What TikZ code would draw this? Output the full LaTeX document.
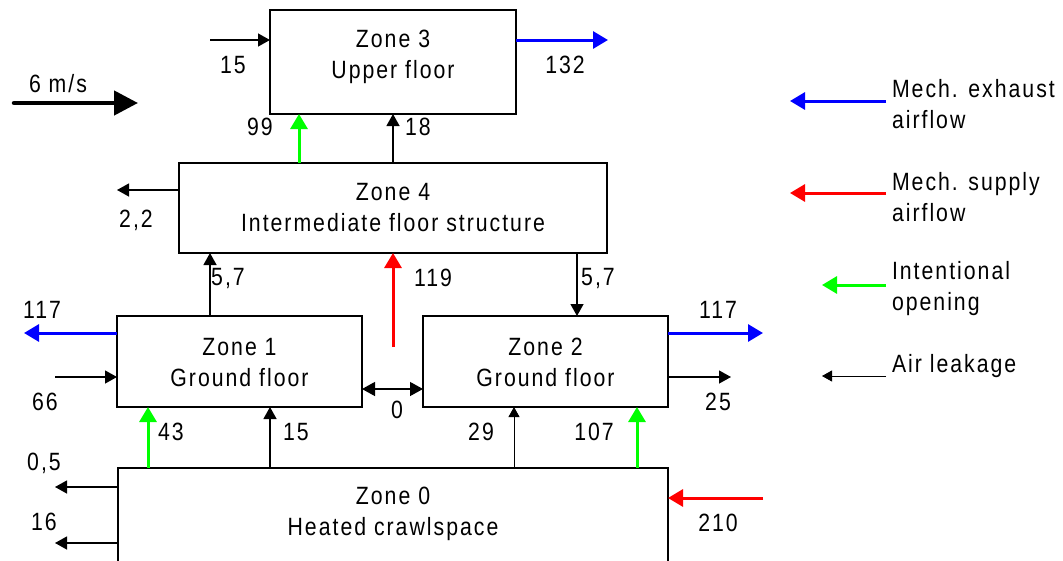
\documentclass[tikz,border=0pt]{standalone}
\usepackage{fontspec}
\setmainfont{Liberation Sans}[FakeStretch=0.85,LetterSpace=8]
\usetikzlibrary{arrows.meta}
\definecolor{exhblue}{RGB}{0,0,255}
\definecolor{supred}{RGB}{255,0,0}
\definecolor{opengreen}{RGB}{0,255,0}
\begin{document}
\begin{tikzpicture}[x=1pt,y=-1pt,
  every node/.style={font=\fontsize{25}{31}\selectfont, inner sep=0pt, outer sep=0pt},
  zbox/.style={draw, line width=1.3pt},
  ztext/.style={align=center},
  lbl/.style={},
  legtext/.style={anchor=west, align=left},
  leak/.style={line width=1.3pt, -{Triangle[length=12pt,width=13pt]}},
  leakboth/.style={line width=1.3pt, {Triangle[length=13pt,width=14pt]}-{Triangle[length=13pt,width=14pt]}},
  leakthin/.style={line width=0.9pt, -{Triangle[length=10pt,width=11pt]}},
  exh/.style={exhblue, line width=3pt, -{Triangle[length=15pt,width=17pt]}},
  sup/.style={supred, line width=3pt, -{Triangle[length=15pt,width=17pt]}},
  open/.style={opengreen, line width=3pt, -{Triangle[length=15pt,width=17pt]}},
  wind/.style={line width=4.5pt, line cap=round, -{Triangle[length=24pt,width=24pt]}}
]
\useasboundingbox (0,0) rectangle (1063,560);
\clip (0,0) rectangle (1063,560);
\fill[white] (0,0) rectangle (1063,560);

% boxes
\node[zbox, minimum width=246pt, minimum height=104pt] (z3) at (393,62) {};
\node[zbox, minimum width=428pt, minimum height=90pt] (z4) at (393,208) {};
\node[zbox, minimum width=245pt, minimum height=91pt] (z1) at (239.5,361.5) {};
\node[zbox, minimum width=245pt, minimum height=91pt] (z2) at (545.5,361.5) {};
\node[zbox, minimum width=550pt, minimum height=130pt] (z0) at (393,533) {};

% box texts
\node[ztext] (t3) at (393,56.5) {Zone 3\\Upper floor};
\node[ztext] (t4) at (393,208) {Zone 4\\Intermediate floor structure};
\node[ztext] (t1) at (239.5,362.5) {Zone 1\\Ground floor};
\node[ztext] (t2) at (545.5,362.5) {Zone 2\\Ground floor};
\node[ztext] (t0) at (393,514) {Zone 0\\Heated crawlspace};

% free ends
\coordinate (a15) at (210,40);
\coordinate (b132) at (608,40);
\coordinate (w1) at (14,103);
\coordinate (w2) at (138,103);
\coordinate (c22) at (117,190);
\coordinate (r119) at (393,347);
\coordinate (e1) at (24,333);
\coordinate (l66) at (55,377);
\coordinate (e2) at (763,333);
\coordinate (l25) at (731,377);
\coordinate (l05) at (55,487);
\coordinate (l16) at (55,543);
\coordinate (s210) at (763,498);

% connectors
\draw[leak] (a15) -- (a15 -| z3.west);
\draw[exh] (z3.east |- b132) -- (b132);
\draw[wind] (w1) -- (w2);
\draw[open] (z4.north -| 299,0) -- (z3.south -| 299,0);
\draw[leak] (z4.north -| 393,0) -- (z3.south -| 393,0);
\draw[leak] (z4.west |- c22) -- (c22);
\draw[leak] (z1.north -| 210,0) -- (z4.south -| 210,0);
\draw[sup] (r119) -- (z4.south -| r119);
\draw[leak] (z4.south -| 577,0) -- (z2.north -| 577,0);
\draw[exh] (z1.west |- e1) -- (e1);
\draw[leak] (l66) -- (z1.west |- l66);
\draw[leakboth] (z1.east |- 0,389) -- (z2.west |- 0,389);
\draw[exh] (z2.east |- e2) -- (e2);
\draw[leak] (z2.east |- l25) -- (l25);
\draw[open] (z0.north -| 148,0) -- (z1.south -| 148,0);
\draw[leak] (z0.north -| 270,0) -- (z1.south -| 270,0);
\draw[leakthin] (z0.north -| 514,0) -- (z2.south -| 514,0);
\draw[open] (z0.north -| 637,0) -- (z2.south -| 637,0);
\draw[leak] (z0.west |- l05) -- (l05);
\draw[leak] (z0.west |- l16) -- (l16);
\draw[sup] (s210) -- (z0.east |- s210);

% labels
\node[lbl] (n15a) at (233,65) {15};
\node[lbl] (n132) at (565,65) {132};
\node[lbl] (nwind) at (58,84) {6 m/s};
\node[lbl] (n99) at (260,127) {99};
\node[lbl] (n18) at (418,127) {18};
\node[lbl] (n22) at (136,220) {2,2};
\node[lbl] (n57a) at (228,278) {5,7};
\node[lbl] (n119) at (433,278) {119};
\node[lbl] (n57b) at (598,278) {5,7};
\node[lbl] (n117a) at (42,310) {117};
\node[lbl] (n66) at (45,402) {66};
\node[lbl] (n0) at (397,410) {0};
\node[lbl] (n117b) at (718,310) {117};
\node[lbl] (n25) at (718,402) {25};
\node[lbl] (n43) at (171,432) {43};
\node[lbl] (n15b) at (296,432) {15};
\node[lbl] (n29) at (481,432) {29};
\node[lbl] (n107) at (594,432) {107};
\node[lbl] (n05) at (44,463) {0,5};
\node[lbl] (n16) at (44,522) {16};
\node[lbl] (n210) at (718,523) {210};

% legend
\coordinate (g1a) at (886,101); \coordinate (g1b) at (790,101);
\coordinate (g2a) at (886,193); \coordinate (g2b) at (790,193);
\coordinate (g3a) at (886,285); \coordinate (g3b) at (822,285);
\coordinate (g4a) at (886,376); \coordinate (g4b) at (822,376);
\draw[exh] (g1a) -- (g1b);
\draw[sup] (g2a) -- (g2b);
\draw[open] (g3a) -- (g3b);
\draw[leakthin] (g4a) -- (g4b);
\node[legtext] (L1) at (892,104) {Mech. exhaust\\airflow};
\node[legtext] (L2) at (892,197.5) {Mech. supply\\airflow};
\node[legtext] (L3) at (892,288.5) {Intentional\\opening};
\node[legtext] (L4) at (892,366) {Air leakage};
\end{tikzpicture}
\end{document}
